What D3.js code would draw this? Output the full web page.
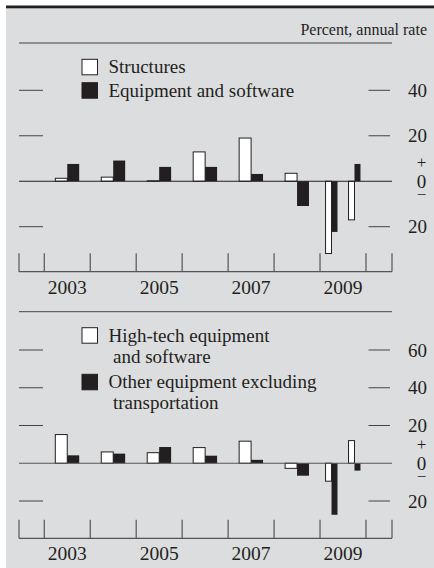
<!DOCTYPE html>
<html>
<head>
<meta charset="utf-8">
<script src="https://cdn.jsdelivr.net/npm/d3@7"></script>
<style>
  body { margin: 0; background: #fff; }
  svg { display: block; }
  text { font-family: "Liberation Serif", "Times New Roman", serif; fill: #231f20; }
</style>
</head>
<body>
<div id="chart"></div>
<script>
// periods: annual for 2003-2008, then two halves of 2009
var periods = ['2003', '2004', '2005', '2006', '2007', '2008', '2009 H1', '2009 H2'];
var periodMid = [2003.5, 2004.5, 2005.5, 2006.5, 2007.5, 2008.5, 2009.25, 2009.75];
var periodSpan = [1, 1, 1, 1, 1, 1, 0.5, 0.5];

var structures = [1.3, 1.8, 0.2, 12.9, 19.0, 3.5, -31.8, -17.0];
var equipSoftware = [7.6, 9.1, 6.3, 6.3, 3.2, -10.9, -22.3, 7.6];
var highTech = [15.2, 6.0, 5.6, 8.3, 11.7, -2.7, -9.5, 12.0];
var otherEquip = [4.2, 5.1, 8.6, 4.0, 1.8, -6.6, -27.3, -3.9];

var yearTicks = [2003, 2004, 2005, 2006, 2007, 2008, 2009, 2010];
var yearLabels = [2003, 2005, 2007, 2009];

var topTicks = [40, 20, -20];
var bottomTicks = [60, 40, 20, -20];

var W = 434, H = 568;
var svg = d3.select('#chart').append('svg').attr('width', W).attr('height', H);

// gray page with black top rule
svg.append('rect').attr('x', 6).attr('y', 6).attr('width', W - 6).attr('height', H - 6).attr('fill', '#dcdddf');
svg.append('rect').attr('x', 6).attr('y', 5.5).attr('width', W - 6).attr('height', 2.8).attr('fill', '#231f20');

svg.append('text')
  .attr('x', 427).attr('y', 35)
  .attr('text-anchor', 'end')
  .attr('font-size', 16)
  .text('Percent, annual rate');

var x = d3.scaleLinear().domain([2002.45, 2010.566]).range([19, 392]);
var barW = 0.26;

function drawPanel(opts) {
  var y = d3.scaleLinear().domain(opts.domain).range(opts.range);
  var g = svg.append('g');

  // rule above panel
  g.append('line')
    .attr('x1', 19).attr('x2', 392)
    .attr('y1', opts.ruleY).attr('y2', opts.ruleY)
    .attr('stroke', '#444').attr('stroke-width', 1);

  // left and right tick dashes
  g.selectAll('.lt').data(opts.ticks).enter().append('line')
    .attr('x1', 19).attr('x2', 43)
    .attr('y1', function(d) { return y(d); })
    .attr('y2', function(d) { return y(d); })
    .attr('stroke', '#444').attr('stroke-width', 1);
  g.selectAll('.rt').data(opts.ticks).enter().append('line')
    .attr('x1', 368.5).attr('x2', 390)
    .attr('y1', function(d) { return y(d); })
    .attr('y2', function(d) { return y(d); })
    .attr('stroke', '#444').attr('stroke-width', 1);
  g.selectAll('.rl').data(opts.ticks).enter().append('text')
    .attr('x', 427)
    .attr('y', function(d) { return y(d) + 6.5; })
    .attr('text-anchor', 'end')
    .attr('font-size', 19)
    .text(function(d) { return Math.abs(d); });

  // + 0 − marker
  var zy = y(0);
  g.append('text').attr('x', 421.5).attr('y', zy - 13.5).attr('text-anchor', 'middle').attr('font-size', 17).text('+');
  g.append('text').attr('x', 421.5).attr('y', zy + 6.5).attr('text-anchor', 'middle').attr('font-size', 19).text('0');
  g.append('text').attr('x', 421.5).attr('y', zy + 19).attr('text-anchor', 'middle').attr('font-size', 17).text('\u2212');

  // bars
  var idx = d3.range(periods.length);
  g.selectAll('.wb').data(idx).enter().append('rect')
    .attr('x', function(i) { return x(periodMid[i] - barW * periodSpan[i]); })
    .attr('width', function(i) { return x(periodMid[i]) - x(periodMid[i] - barW * periodSpan[i]); })
    .attr('y', function(i) { return Math.min(y(opts.white[i]), zy); })
    .attr('height', function(i) { return Math.abs(y(opts.white[i]) - zy); })
    .attr('fill', '#fff').attr('stroke', '#231f20').attr('stroke-width', 1);
  g.selectAll('.bb').data(idx).enter().append('rect')
    .attr('x', function(i) { return x(periodMid[i]); })
    .attr('width', function(i) { return x(periodMid[i] + barW * periodSpan[i]) - x(periodMid[i]); })
    .attr('y', function(i) { return Math.min(y(opts.black[i]), zy); })
    .attr('height', function(i) { return Math.abs(y(opts.black[i]) - zy); })
    .attr('fill', '#231f20');

  // zero line
  g.append('line')
    .attr('x1', 19).attr('x2', 392)
    .attr('y1', zy).attr('y2', zy)
    .attr('stroke', opts.zeroColor).attr('stroke-width', 1.2);

  // time axis
  var ax = opts.axisY;
  g.append('line')
    .attr('x1', 19).attr('x2', 392)
    .attr('y1', ax).attr('y2', ax)
    .attr('stroke', '#555').attr('stroke-width', 1.2);
  var edges = [x.domain()[0]].concat(yearTicks).concat([x.domain()[1]]);
  g.selectAll('.xt').data(edges).enter().append('line')
    .attr('x1', function(d) { return x(d); })
    .attr('x2', function(d) { return x(d); })
    .attr('y1', ax - 18.5).attr('y2', ax)
    .attr('stroke', '#555').attr('stroke-width', 1.2);
  g.selectAll('.xl').data(yearLabels).enter().append('text')
    .attr('x', function(d) { return x(d + 0.5); })
    .attr('y', ax + 22)
    .attr('text-anchor', 'middle')
    .attr('font-size', 19.5)
    .text(function(d) { return d; });

  // legend
  opts.legend.forEach(function(item) {
    g.append('rect')
      .attr('x', 82).attr('y', item.y - 14)
      .attr('width', 15.5).attr('height', 15.5)
      .attr('fill', item.fill).attr('stroke', '#231f20').attr('stroke-width', 1);
    item.lines.forEach(function(line, k) {
      g.append('text')
        .attr('x', k === 0 ? 108.5 : 113)
        .attr('y', item.y + k * 21)
        .attr('font-size', 19)
        .text(line);
    });
  });
}

drawPanel({
  domain: [-20, 40], range: [226.7, 90.3],
  ruleY: 43, axisY: 271.7, ticks: topTicks,
  white: structures, black: equipSoftware, zeroColor: '#231f20',
  legend: [
    { y: 73.3, fill: '#fff', lines: ['Structures'] },
    { y: 96.7, fill: '#231f20', lines: ['Equipment and software'] }
  ]
});

drawPanel({
  domain: [-20, 60], range: [501, 350],
  ruleY: 311.7, axisY: 538.3, ticks: bottomTicks,
  white: highTech, black: otherEquip, zeroColor: '#555',
  legend: [
    { y: 341.7, fill: '#fff', lines: ['High-tech equipment', 'and software'] },
    { y: 388.3, fill: '#231f20', lines: ['Other equipment excluding', 'transportation'] }
  ]
});
</script>
</body>
</html>
